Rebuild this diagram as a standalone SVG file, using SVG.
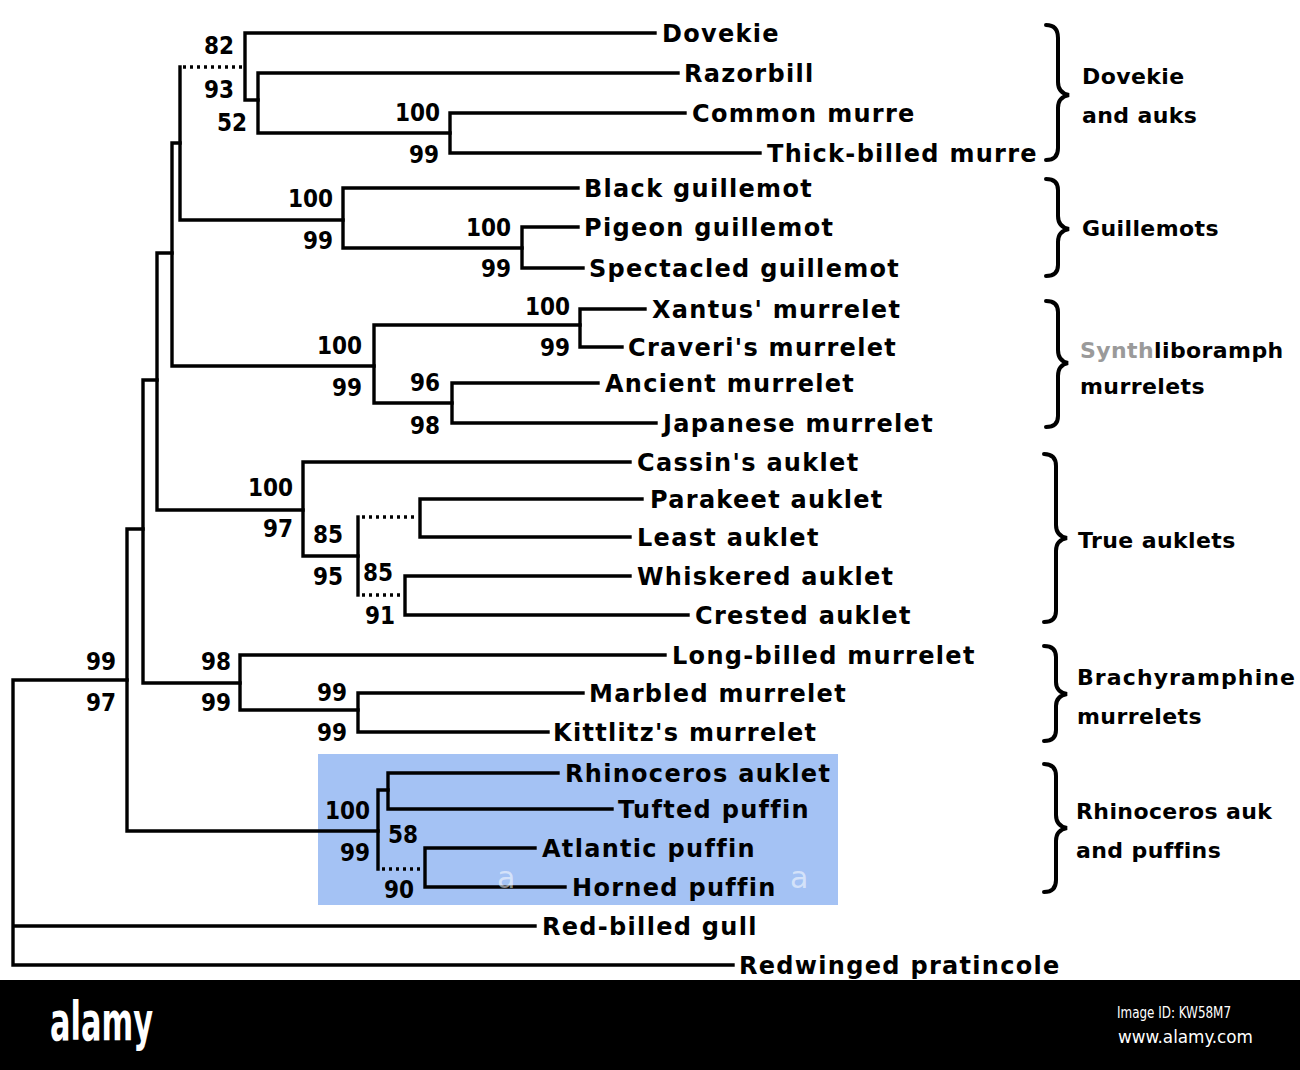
<svg xmlns="http://www.w3.org/2000/svg" width="1300" height="1070" viewBox="0 0 1300 1070">
<style>
.ln{stroke:#000;stroke-width:3.4;fill:none;stroke-linecap:square}
.dt{stroke:#000;stroke-width:3.4;fill:none;stroke-dasharray:3 4}
.br{stroke:#000;stroke-width:4;fill:none;stroke-linecap:round}
.lf{font-family:"DejaVu Sans",sans-serif;font-weight:bold;font-size:24px;fill:#000;letter-spacing:1.3px}
.gp{font-family:"DejaVu Sans",sans-serif;font-weight:bold;font-size:22px;fill:#000;letter-spacing:0.4px}
.nm{font-family:"DejaVu Sans Condensed","DejaVu Sans",sans-serif;font-stretch:condensed;font-weight:bold;font-size:24px;fill:#000;text-anchor:end}
</style>
<rect x="0" y="0" width="1300" height="1070" fill="#fff"/>
<rect x="318" y="754" width="520" height="151" fill="#a4c2f4"/>
<g id="connectors">
<path class="ln" d="M13,680V965M13,680H127M13,926H535M13,965H733"/>
<path class="ln" d="M127,529V831M127,529H143M127,831H378"/>
<path class="ln" d="M143,380V683M143,380H157M143,683H240"/>
<path class="ln" d="M157,253V510M157,253H172M157,510H303"/>
<path class="ln" d="M172,143V366M172,143H180M172,366H374"/>
<path class="ln" d="M180,67V220M180,220H343"/>
<path class="dt" d="M183,67H243"/>
<path class="ln" d="M245,33V100M245,33H655M245,100H258"/>
<path class="ln" d="M258,73V133M258,73H678M258,133H450"/>
<path class="ln" d="M450,113V153M450,113H685M450,153H760"/>
<path class="ln" d="M343,188V248M343,188H578M343,248H522"/>
<path class="ln" d="M522,227V268M522,227H578M522,268H583"/>
<path class="ln" d="M374,325V403M374,325H580M374,403H452"/>
<path class="ln" d="M580,309V347M580,309H645M580,347H622"/>
<path class="ln" d="M452,383V423M452,383H598M452,423H656"/>
<path class="ln" d="M303,462V556M303,462H630M303,556H358"/>
<path class="ln" d="M358,517V595"/>
<path class="dt" d="M362,517H418M362,595H403"/>
<path class="ln" d="M420,499V537M420,499H642M420,537H630"/>
<path class="ln" d="M405,576V615M405,576H630M405,615H688"/>
<path class="ln" d="M240,655V710M240,655H665M240,710H358"/>
<path class="ln" d="M358,693V732M358,693H583M358,732H548"/>
<path class="ln" d="M378,790V869M378,790H388"/>
<path class="dt" d="M382,869H423"/>
<path class="ln" d="M388,773V809M388,773H558M388,809H612"/>
<path class="ln" d="M425,848V887M425,848H535M425,887H565"/>
</g>
<g id="support-values">
<text class="nm" x="234" y="54">82</text>
<text class="nm" x="234" y="98">93</text>
<text class="nm" x="247" y="131">52</text>
<text class="nm" x="440" y="121">100</text>
<text class="nm" x="439" y="163">99</text>
<text class="nm" x="333" y="207">100</text>
<text class="nm" x="333" y="249">99</text>
<text class="nm" x="511" y="236">100</text>
<text class="nm" x="511" y="277">99</text>
<text class="nm" x="362" y="354">100</text>
<text class="nm" x="362" y="396">99</text>
<text class="nm" x="570" y="315">100</text>
<text class="nm" x="570" y="356">99</text>
<text class="nm" x="440" y="391">96</text>
<text class="nm" x="440" y="434">98</text>
<text class="nm" x="293" y="496">100</text>
<text class="nm" x="293" y="537">97</text>
<text class="nm" x="343" y="543">85</text>
<text class="nm" x="343" y="585">95</text>
<text class="nm" x="393" y="581">85</text>
<text class="nm" x="395" y="624">91</text>
<text class="nm" x="116" y="670">99</text>
<text class="nm" x="116" y="711">97</text>
<text class="nm" x="231" y="670">98</text>
<text class="nm" x="231" y="711">99</text>
<text class="nm" x="347" y="701">99</text>
<text class="nm" x="347" y="741">99</text>
<text class="nm" x="370" y="819">100</text>
<text class="nm" x="370" y="861">99</text>
<text class="nm" x="418" y="843">58</text>
<text class="nm" x="414" y="898">90</text>
</g>
<g id="n-dovekie"><text class="lf" x="662" y="42">Dovekie</text></g>
<g id="n-razorbill"><text class="lf" x="684" y="82">Razorbill</text></g>
<g id="n-common-murre"><text class="lf" x="692" y="122">Common murre</text></g>
<g id="n-thick-billed-murre"><text class="lf" x="767" y="162">Thick-billed murre</text></g>
<g id="n-black-guillemot"><text class="lf" x="584" y="197">Black guillemot</text></g>
<g id="n-pigeon-guillemot"><text class="lf" x="584" y="236">Pigeon guillemot</text></g>
<g id="n-spectacled-guillemot"><text class="lf" x="589" y="277">Spectacled guillemot</text></g>
<g id="n-xantus"><text class="lf" x="652" y="318">Xantus' murrelet</text></g>
<g id="n-craveri"><text class="lf" x="628" y="356">Craveri's murrelet</text></g>
<g id="n-ancient"><text class="lf" x="605" y="392">Ancient murrelet</text></g>
<g id="n-japanese"><text class="lf" x="663" y="432">Japanese murrelet</text></g>
<g id="n-cassin"><text class="lf" x="637" y="471">Cassin's auklet</text></g>
<g id="n-parakeet"><text class="lf" x="650" y="508">Parakeet auklet</text></g>
<g id="n-least"><text class="lf" x="637" y="546">Least auklet</text></g>
<g id="n-whiskered"><text class="lf" x="637" y="585">Whiskered auklet</text></g>
<g id="n-crested"><text class="lf" x="695" y="624">Crested auklet</text></g>
<g id="n-long-billed"><text class="lf" x="672" y="664">Long-billed murrelet</text></g>
<g id="n-marbled"><text class="lf" x="589" y="702">Marbled murrelet</text></g>
<g id="n-kittlitz"><text class="lf" x="553" y="741">Kittlitz's murrelet</text></g>
<g id="n-rhinoceros"><text class="lf" x="565" y="782">Rhinoceros auklet</text></g>
<g id="n-tufted"><text class="lf" x="618" y="818">Tufted puffin</text></g>
<g id="n-atlantic"><text class="lf" x="542" y="857">Atlantic puffin</text></g>
<g id="n-horned"><text class="lf" x="572" y="896">Horned puffin</text></g>
<g id="n-red-billed-gull"><text class="lf" x="542" y="935">Red-billed gull</text></g>
<g id="n-pratincole"><text class="lf" x="739" y="974">Redwinged pratincole</text></g>
<g id="groups">
<path class="br" d="M1046,25Q1058,25 1058,38V82Q1058,93 1069,95Q1058,97 1058,108V148Q1058,160 1046,160"/>
<path class="br" d="M1046,179Q1058,179 1058,190V216Q1058,227 1069,229Q1058,231 1058,242V265Q1058,276 1046,276"/>
<path class="br" d="M1046,301Q1058,301 1058,312V350Q1058,361 1068,363Q1058,365 1058,376V416Q1058,427 1046,427"/>
<path class="br" d="M1044,454Q1056,454 1056,466V525Q1056,536 1067,538Q1056,540 1056,551V611Q1056,622 1044,622"/>
<path class="br" d="M1044,646Q1056,646 1056,657V682Q1056,692 1067,694Q1056,696 1056,706V730Q1056,741 1044,741"/>
<path class="br" d="M1044,764Q1056,764 1056,776V815Q1056,826 1067,828Q1056,830 1056,841V880Q1056,892 1044,892"/>
<text class="gp" x="1082" y="84">Dovekie</text>
<text class="gp" x="1082" y="123">and auks</text>
<text class="gp" x="1082" y="236">Guillemots</text>
<text class="gp" x="1080" y="358"><tspan fill="#9a9a9a">Synth</tspan>liboramph</text>
<text class="gp" x="1080" y="394">murrelets</text>
<text class="gp" x="1078" y="548">True auklets</text>
<text class="gp" x="1077" y="685" style="letter-spacing:1.1px">Brachyramphine</text>
<text class="gp" x="1077" y="724">murrelets</text>
<text class="gp" x="1076" y="819">Rhinoceros auk</text>
<text class="gp" x="1076" y="858">and puffins</text>
</g>
<g id="watermark">
<text x="497" y="888" font-family="DejaVu Sans,sans-serif" font-size="30" fill="#fff" fill-opacity="0.55">a</text>
<text x="790" y="888" font-family="DejaVu Sans,sans-serif" font-size="30" fill="#fff" fill-opacity="0.55">a</text>
<rect x="0" y="980" width="1300" height="90" fill="#000"/>
<text x="50" y="1040" font-family="DejaVu Sans Condensed,DejaVu Sans,sans-serif" font-stretch="condensed" font-weight="bold" font-size="54" fill="#fff" textLength="103" lengthAdjust="spacingAndGlyphs">alamy</text>
<text x="1117" y="1018" font-family="DejaVu Sans Condensed,DejaVu Sans,sans-serif" font-stretch="condensed" font-size="16" fill="#fff" textLength="114" lengthAdjust="spacingAndGlyphs">Image ID: KW58M7</text>
<text x="1118" y="1043" font-family="DejaVu Sans Condensed,DejaVu Sans,sans-serif" font-stretch="condensed" font-size="18" fill="#fff" textLength="135" lengthAdjust="spacingAndGlyphs">www.alamy.com</text>
</g>
</svg>
